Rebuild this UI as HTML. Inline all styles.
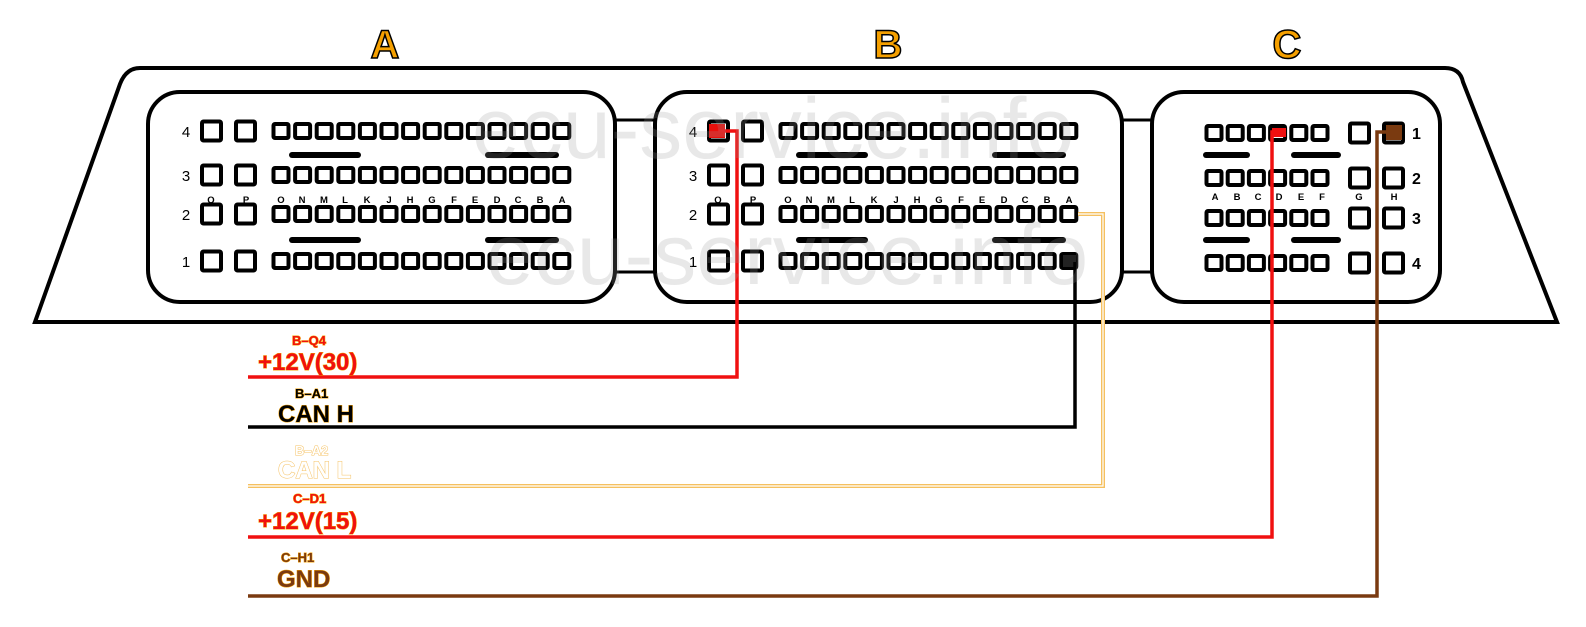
<!DOCTYPE html>
<html><head><meta charset="utf-8"><style>
html,body{margin:0;padding:0;background:#fff;}
svg{display:block;}
text{font-family:"Liberation Sans",sans-serif;}
</style></head><body>
<svg width="1586" height="627" viewBox="0 0 1586 627" xmlns="http://www.w3.org/2000/svg">
<defs>
<g id="r14" fill="#fff" stroke="#000" stroke-width="4">
<rect x="1.5" y="-7" width="15" height="14" rx="1.5"/>
<rect x="23.1" y="-7" width="15" height="14" rx="1.5"/>
<rect x="44.7" y="-7" width="15" height="14" rx="1.5"/>
<rect x="66.3" y="-7" width="15" height="14" rx="1.5"/>
<rect x="87.9" y="-7" width="15" height="14" rx="1.5"/>
<rect x="109.5" y="-7" width="15" height="14" rx="1.5"/>
<rect x="131.1" y="-7" width="15" height="14" rx="1.5"/>
<rect x="152.7" y="-7" width="15" height="14" rx="1.5"/>
<rect x="174.3" y="-7" width="15" height="14" rx="1.5"/>
<rect x="195.9" y="-7" width="15" height="14" rx="1.5"/>
<rect x="217.5" y="-7" width="15" height="14" rx="1.5"/>
<rect x="239.1" y="-7" width="15" height="14" rx="1.5"/>
<rect x="260.7" y="-7" width="15" height="14" rx="1.5"/>
<rect x="282.3" y="-7" width="15" height="14" rx="1.5"/>
</g>
<g id="r6" fill="#fff" stroke="#000" stroke-width="4">
<rect x="1.5" y="-7" width="15" height="14" rx="1.5"/>
<rect x="22.7" y="-7" width="15" height="14" rx="1.5"/>
<rect x="43.9" y="-7" width="15" height="14" rx="1.5"/>
<rect x="65.1" y="-7" width="15" height="14" rx="1.5"/>
<rect x="86.3" y="-7" width="15" height="14" rx="1.5"/>
<rect x="107.5" y="-7" width="15" height="14" rx="1.5"/>
</g>
<g id="big2" fill="#fff" stroke="#000" stroke-width="4">
<rect x="-9" y="-9.5" width="19" height="19" rx="1.5"/>
<rect x="25" y="-9.5" width="19" height="19" rx="1.5"/>
</g>
<g id="conn14">
<rect x="0" y="0" width="467" height="210" rx="32" fill="#fff" stroke="#000" stroke-width="4"/>
<use href="#big2" x="63" y="39"/><use href="#r14" x="124" y="39"/>
<use href="#big2" x="63" y="83"/><use href="#r14" x="124" y="83"/>
<use href="#big2" x="63" y="122"/><use href="#r14" x="124" y="122"/>
<use href="#big2" x="63" y="169"/><use href="#r14" x="124" y="169"/>
<g stroke="#000" stroke-width="6" stroke-linecap="round">
<line x1="144" y1="63" x2="210" y2="63"/><line x1="340" y1="63" x2="408" y2="63"/>
<line x1="144" y1="148" x2="210" y2="148"/><line x1="340" y1="148" x2="408" y2="148"/>
</g>
<g font-size="15" text-anchor="middle">
<text x="38" y="45">4</text><text x="38" y="89">3</text><text x="38" y="128">2</text><text x="38" y="175">1</text>
</g>
<g font-size="9.5" text-anchor="middle" font-weight="bold">
<text x="63" y="111">Q</text><text x="98" y="111">P</text>
<text x="133" y="111">O</text><text x="154" y="111">N</text><text x="176" y="111">M</text><text x="197" y="111">L</text>
<text x="219" y="111">K</text><text x="241" y="111">J</text><text x="262" y="111">H</text><text x="284" y="111">G</text>
<text x="306" y="111">F</text><text x="327" y="111">E</text><text x="349" y="111">D</text><text x="370" y="111">C</text>
<text x="392" y="111">B</text><text x="414" y="111">A</text>
</g>
</g>
</defs>

<g font-size="40" font-weight="bold" fill="#f5a000" stroke="#000" stroke-width="1.5" text-anchor="middle">
<text x="385" y="58">A</text><text x="888" y="58">B</text><text x="1287" y="58">C</text>
</g>

<path d="M140 68 L1445 68 Q1460 68 1463 82 L1557 322 L35 322 L120 84 Q126 68 140 68 Z" fill="#fff" stroke="#000" stroke-width="4"/>
<rect x="612" y="120" width="46" height="152" fill="#fff" stroke="#000" stroke-width="3"/>
<rect x="1118" y="120" width="40" height="152" fill="#fff" stroke="#000" stroke-width="3"/>

<use href="#conn14" x="148" y="92"/>
<use href="#conn14" x="655" y="92"/>

<rect x="1152" y="92" width="288" height="210" rx="32" fill="#fff" stroke="#000" stroke-width="4"/>
<use href="#r6" x="1205" y="133"/><use href="#r6" x="1205" y="178"/>
<use href="#r6" x="1205" y="218"/><use href="#r6" x="1205" y="263"/>
<use href="#big2" x="1359" y="133"/><use href="#big2" x="1359" y="178"/>
<use href="#big2" x="1359" y="218"/><use href="#big2" x="1359" y="263"/>
<g stroke="#000" stroke-width="6" stroke-linecap="round">
<line x1="1206" y1="155" x2="1247" y2="155"/><line x1="1294" y1="155" x2="1338" y2="155"/>
<line x1="1206" y1="240" x2="1247" y2="240"/><line x1="1294" y1="240" x2="1338" y2="240"/>
</g>
<g font-size="16" font-weight="bold">
<text x="1412" y="139">1</text><text x="1412" y="184">2</text><text x="1412" y="224">3</text><text x="1412" y="269">4</text>
</g>
<g font-size="9.5" text-anchor="middle" font-weight="bold">
<text x="1215" y="200">A</text><text x="1237" y="200">B</text><text x="1258" y="200">C</text>
<text x="1279" y="200">D</text><text x="1301" y="200">E</text><text x="1322" y="200">F</text>
<text x="1359" y="200">G</text><text x="1394" y="200">H</text>
</g>

<rect x="709" y="124" width="16" height="14" fill="#e8100c"/>
<rect x="1063" y="255" width="13" height="12" fill="#222"/>
<rect x="1386" y="125" width="16" height="15" fill="#7a3a10"/>
<rect x="1272" y="128" width="14" height="9" fill="#f01010"/>

<path d="M718 131 H737 V377 H248" fill="none" stroke="#f01010" stroke-width="3.5"/>
<path d="M1075 262 V427 H248" fill="none" stroke="#000" stroke-width="3.5"/>
<path d="M1078 214 H1103 V486 H248" fill="none" stroke="#f5c060" stroke-width="4"/>
<path d="M1078 214 H1103 V486 H248" fill="none" stroke="#fff" stroke-width="1.2"/>
<path d="M1280 132 H1272 V537 H248" fill="none" stroke="#f01010" stroke-width="3.5"/>
<path d="M1392 132 H1377 V596 H248" fill="none" stroke="#7a3a10" stroke-width="3.5"/>

<g font-weight="bold" stroke-width="1" paint-order="stroke">
<text x="292" y="345" font-size="13" fill="#f01010" stroke="#f5a000">B–Q4</text>
<text x="258" y="370" font-size="24" fill="#f01010" stroke="#f5a000">+12V(30)</text>
<text x="295" y="398" font-size="13" fill="#000" stroke="#f5a000">B–A1</text>
<text x="278" y="422" font-size="24" fill="#000" stroke="#f5a000">CAN H</text>
<text x="295" y="455" font-size="13" fill="#fff" stroke="#f5c060">B–A2</text>
<text x="278" y="478" font-size="24" fill="#fff" stroke="#f5c060">CAN L</text>
<text x="293" y="503" font-size="13" fill="#f01010" stroke="#f5a000">C–D1</text>
<text x="258" y="529" font-size="24" fill="#f01010" stroke="#f5a000">+12V(15)</text>
<text x="281" y="562" font-size="13" fill="#7a3a10" stroke="#f5a000">C–H1</text>
<text x="277" y="587" font-size="24" fill="#7a3a10" stroke="#f5a000">GND</text>
</g>

<g font-size="86" fill="#999" opacity="0.22">
<text x="472" y="158">ecu-service.info</text>
<text x="486" y="284">ecu-service.info</text>
</g>
</svg>
</body></html>
